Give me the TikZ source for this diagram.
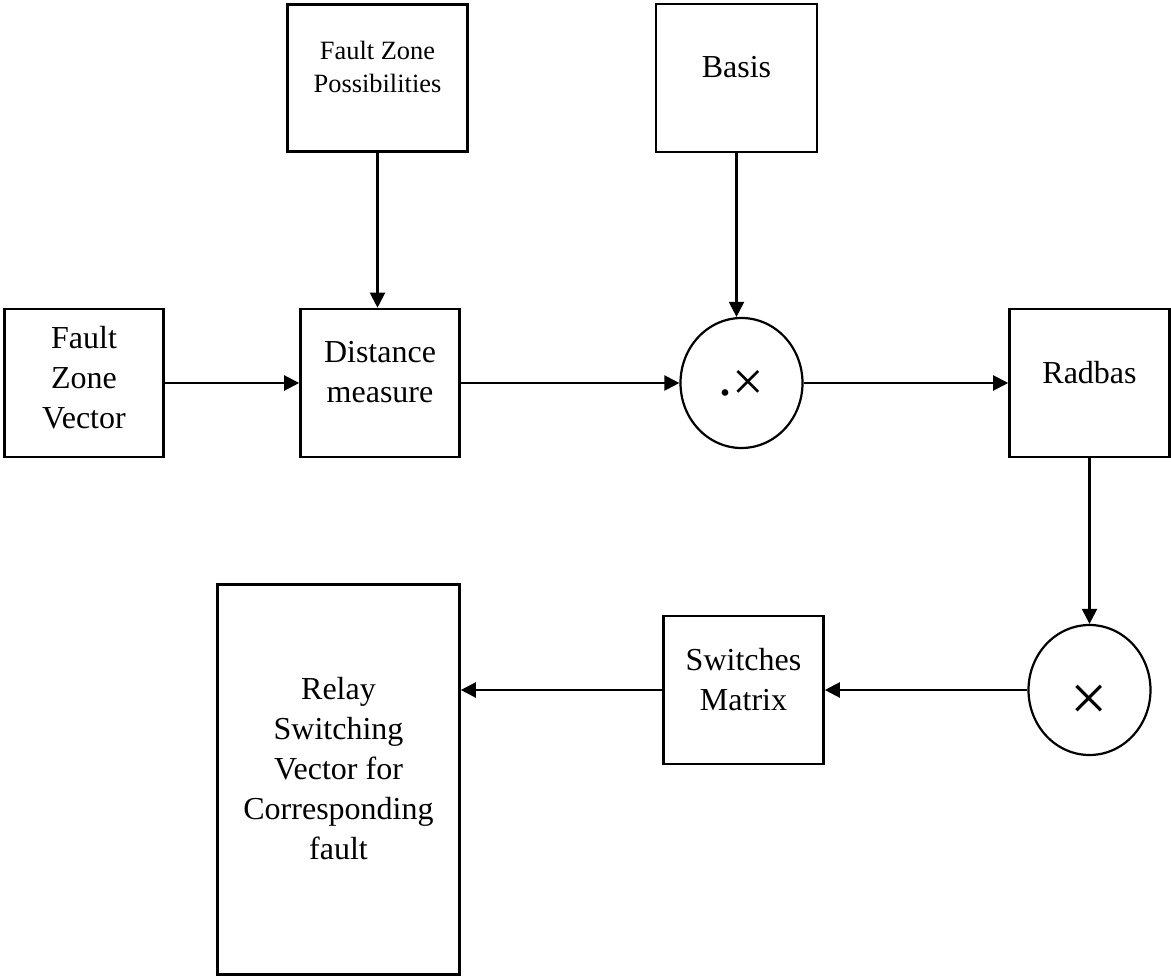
\documentclass[tikz,border=0pt]{standalone}
\usepackage{fontspec}
\setmainfont{Liberation Serif}
\usetikzlibrary{arrows.meta,shapes.geometric}

\begin{document}
\begin{tikzpicture}[x=1pt,y=-1pt,
  blk/.style={draw,line width=2.6pt,inner sep=0pt,align=center,font=\fontsize{32}{40}\selectfont,text depth=22pt},
  op/.style={draw,ellipse,line width=2.2pt,inner sep=0pt,minimum width=122pt,minimum height=130pt,text depth=0pt},
  flow/.style={-{Triangle[length=15pt,width=15pt]},line width=2.2pt}]
\useasboundingbox (0,0) rectangle (1171,976);
\node[blk,minimum width=180pt,minimum height=147pt,font=\fontsize{26.4}{33}\selectfont] (fzp) at (377.5,78) {Fault Zone\\Possibilities};
\node[blk,minimum width=161pt,minimum height=148pt] (basis) at (736.5,78) {Basis};
\node[blk,minimum width=159pt,minimum height=148pt,text depth=11pt] (fzv) at (84,383) {Fault\\Zone\\Vector};
\node[blk,minimum width=159pt,minimum height=148pt] (dist) at (380,383) {Distance\\measure};
\node[op,font=\fontsize{56}{56}\selectfont,text height=26pt] (mult) at (741.5,383) {.\raisebox{-5pt}{×}};
\node[blk,minimum width=160pt,minimum height=148pt] (radbas) at (1089.5,383) {Radbas};
\node[op,font=\fontsize{66}{66}\selectfont,text height=60pt] (prod) at (1089.5,690) {×};
\node[blk,minimum width=160pt,minimum height=148pt] (sw) at (743.5,690) {Switches\\Matrix};
\node[blk,minimum width=242pt,minimum height=390pt] (relay) at (338.5,779.5) {Relay\\Switching\\Vector for\\Corresponding\\fault};
\draw[flow] (fzp.south) -- (fzp.south |- dist.north);
\draw[flow] (fzv) -- (dist);
\draw[flow] (dist) -- (mult);
\draw[flow] (basis.south) -- (basis.south |- mult.north);
\draw[flow] (mult) -- (radbas);
\draw[flow] (radbas) -- (prod);
\draw[flow] (prod) -- (sw);
\draw[flow] (sw.west) -- (sw.west -| relay.east);
\end{tikzpicture}
\end{document}
